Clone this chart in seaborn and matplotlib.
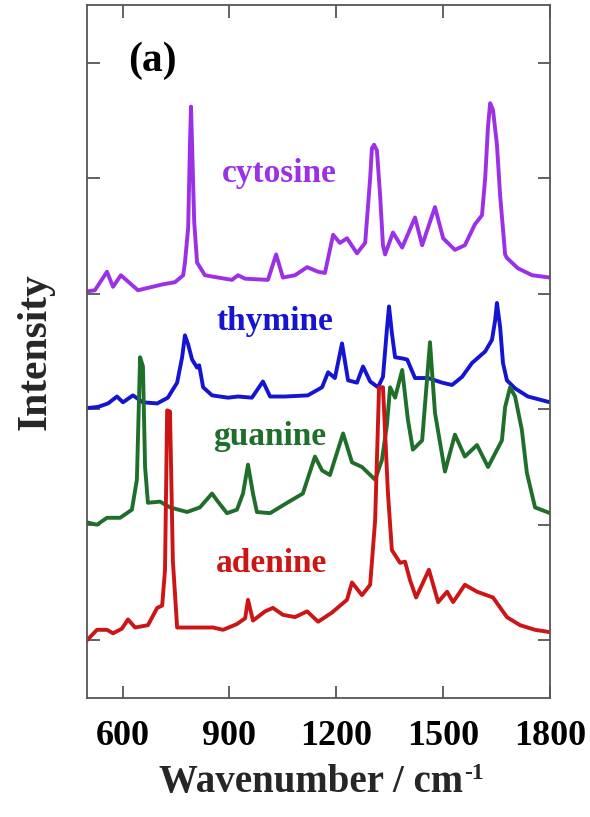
import numpy as np
import pandas as pd
import matplotlib
matplotlib.use("Agg")
import matplotlib.pyplot as plt
import seaborn as sns

# Raman spectra of the four DNA bases (stacked, arbitrary intensity units)
cytosine_wn = [500, 522, 556, 573, 595, 643, 711, 747, 770, 775, 784, 789, 792, 795, 801, 809,
               831, 868, 907, 924, 944, 1008, 1031, 1050, 1084, 1118, 1149, 1168, 1191, 1210,
               1230, 1258, 1281, 1295, 1300, 1306, 1314, 1323, 1331, 1337, 1359, 1385, 1421,
               1441, 1477, 1500, 1533, 1561, 1589, 1609, 1618, 1626, 1632, 1640, 1651, 1660,
               1674, 1679, 1710, 1750, 1800]
cytosine_int = [3.52, 3.53, 3.69, 3.56, 3.66, 3.53, 3.58, 3.60, 3.66, 3.77, 4.07, 4.79, 5.12,
                4.79, 4.12, 3.77, 3.66, 3.64, 3.62, 3.66, 3.63, 3.62, 3.84, 3.64, 3.66, 3.73,
                3.69, 3.68, 4.01, 3.94, 3.98, 3.85, 3.94, 4.50, 4.76, 4.79, 4.74, 4.35, 3.92,
                3.84, 4.03, 3.90, 4.16, 3.92, 4.25, 3.98, 3.88, 3.92, 4.10, 4.18, 4.50, 4.95,
                5.15, 5.09, 4.79, 4.35, 3.84, 3.81, 3.72, 3.66, 3.64]

thymine_wn = [500, 531, 559, 584, 601, 629, 657, 697, 727, 753, 767, 775, 784, 795, 809, 815,
              826, 851, 896, 924, 963, 994, 1014, 1056, 1120, 1160, 1177, 1196, 1216, 1233,
              1258, 1275, 1295, 1317, 1331, 1342, 1348, 1356, 1365, 1385, 1399, 1421, 1458,
              1497, 1525, 1553, 1581, 1618, 1637, 1646, 1651, 1660, 1668, 1679, 1702, 1738,
              1800]
thymine_int = [2.51, 2.52, 2.55, 2.61, 2.56, 2.62, 2.56, 2.55, 2.60, 2.73, 2.95, 3.14, 3.06,
               2.93, 2.86, 2.88, 2.69, 2.62, 2.60, 2.61, 2.60, 2.74, 2.61, 2.61, 2.62, 2.69,
               2.82, 2.77, 3.07, 2.75, 2.73, 2.87, 2.74, 2.69, 2.78, 3.19, 3.39, 3.16, 2.95,
               2.94, 2.93, 2.77, 2.77, 2.73, 2.71, 2.78, 2.90, 3.00, 3.10, 3.27, 3.42, 3.21,
               2.90, 2.75, 2.68, 2.61, 2.56]

guanine_wn = [500, 528, 556, 593, 626, 640, 649, 657, 663, 671, 705, 733, 781, 817, 851,
              865, 893, 921, 938, 952, 966, 977, 1014, 1062, 1106, 1140, 1160, 1182, 1219,
              1244, 1272, 1309, 1328, 1342, 1351, 1365, 1385, 1401, 1415, 1441, 1463, 1477,
              1505, 1533, 1561, 1595, 1626, 1665, 1674, 1688, 1702, 1721, 1735, 1758, 1800]
guanine_int = [1.52, 1.50, 1.56, 1.56, 1.63, 1.89, 2.95, 2.87, 2.00, 1.69, 1.70, 1.65, 1.61,
               1.65, 1.77, 1.71, 1.60, 1.63, 1.77, 2.02, 1.77, 1.61, 1.60, 1.69, 1.77, 2.09,
               1.97, 1.93, 2.29, 2.04, 2.00, 1.89, 2.06, 2.36, 2.69, 2.60, 2.84, 2.41, 2.15,
               2.23, 3.08, 2.47, 1.96, 2.28, 2.09, 2.19, 2.00, 2.23, 2.52, 2.69, 2.61, 2.32,
               1.95, 1.65, 1.60]

adenine_wn = [500, 528, 556, 573, 598, 615, 635, 671, 697, 711, 719, 725, 733, 741, 753,
              798, 854, 882, 921, 944, 952, 966, 1000, 1022, 1050, 1084, 1118, 1149, 1188,
              1230, 1244, 1272, 1295, 1309, 1320, 1331, 1345, 1356, 1379, 1393, 1407, 1424,
              1460, 1486, 1511, 1528, 1561, 1595, 1640, 1679, 1716, 1758, 1800]
adenine_int = [0.50, 0.59, 0.59, 0.56, 0.60, 0.68, 0.61, 0.63, 0.78, 0.80, 1.11, 2.49, 2.48,
               1.19, 0.61, 0.61, 0.61, 0.59, 0.64, 0.69, 0.85, 0.67, 0.75, 0.78, 0.72, 0.70,
               0.75, 0.66, 0.74, 0.85, 1.00, 0.89, 0.98, 1.54, 2.69, 2.69, 1.77, 1.28, 1.17,
               1.18, 1.02, 0.87, 1.11, 0.83, 0.92, 0.83, 0.98, 0.92, 0.87, 0.70, 0.63, 0.59,
               0.57]

bases = ["cytosine", "thymine", "guanine", "adenine"]
colors = ["#9b30e6", "#1414d2", "#1f6f2b", "#cc1515"]
label_x = [1039, 1028, 1014, 1019]
label_y = [4.47, 3.19, 2.19, 1.09]

x_ticks = [600, 900, 1200, 1500, 1800]
y_ticks = [0.5, 1.5, 2.5, 3.5, 4.5, 5.5]

spectra = {
    "cytosine": (cytosine_wn, cytosine_int),
    "thymine": (thymine_wn, thymine_int),
    "guanine": (guanine_wn, guanine_int),
    "adenine": (adenine_wn, adenine_int),
}
df = pd.concat(
    [pd.DataFrame({"wavenumber": wn, "intensity": it, "base": name})
     for name, (wn, it) in spectra.items()],
    ignore_index=True,
)

sns.set_style("ticks")
plt.rcParams["font.family"] = ["Liberation Serif", "DejaVu Serif"]
plt.rcParams["font.weight"] = "bold"

fig = plt.figure(figsize=(5.9, 8.17), dpi=100)
ax = fig.add_axes([0.1475, 0.1457, 0.7847, 0.8482])

sns.lineplot(data=df, x="wavenumber", y="intensity", hue="base",
             palette=dict(zip(bases, colors)), estimator=None, sort=False,
             legend=False, linewidth=2.8, ax=ax)
for line in ax.get_lines():
    line.set_solid_joinstyle("round")

for name, c, lx, ly in zip(bases, colors, label_x, label_y):
    ax.text(lx, ly, name, color=c, fontsize=24, fontweight="bold",
            ha="center", va="baseline")

ax.text(683, 5.52, "(a)", fontsize=30, fontweight="bold", ha="center", va="center",
        color="black")

ax.set_xlim(500, 1800)
ax.set_ylim(0, 6)
ax.set_xticks(x_ticks)
ax.set_xticklabels([str(t) for t in x_ticks])
ax.set_yticks(y_ticks)
ax.set_yticklabels([])
ax.tick_params(axis="both", direction="in", length=9, width=1.3, color="#555555",
               top=True, right=True)
ax.tick_params(axis="x", labelsize=26, pad=16, labelcolor="black")
for lab in ax.get_xticklabels():
    lab.set_fontweight("bold")

for s in ax.spines.values():
    s.set_color("#555555")
    s.set_linewidth(1.3)

ax.set_xlabel("Wavenumber / cm", fontsize=28, fontweight="bold", labelpad=8)
ax.xaxis.label.set_x(0.483)
ax.set_ylabel("Intensity", fontsize=30, fontweight="bold", labelpad=20)

# superscript "-1" set just after the unit
fig.canvas.draw()
bb = ax.xaxis.label.get_window_extent()
fig.text((bb.x1 + 1) / fig.bbox.width, (bb.y1 + 1) / fig.bbox.height, "-1",
         fontsize=17, fontweight="bold", ha="left", va="top")

fig.savefig("out.png", dpi=100)
